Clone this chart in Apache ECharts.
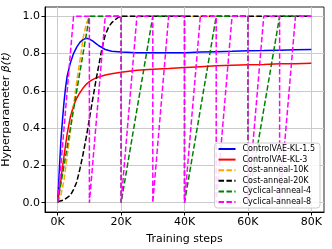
<!DOCTYPE html>
<html><head><meta charset="utf-8">
<script src="https://cdn.jsdelivr.net/npm/echarts@6/dist/echarts.min.js"></script>
<style>html,body{margin:0;padding:0;background:#fff}#c{width:332px;height:249px}</style>
</head><body><div id="c"></div>
<script>
// ---- data ----
var ctrlSteps = [0,500,1000,1500,2000,2500,3000,4000,5000,6000,7000,8000,9000,10000,11000,12000,13000,14000,15000,17000,20000,25000,30000,35000,40000,42000,45000,50000,55000,60000,65000,70000,75000,80000];
var kl15 = [0,0.17,0.33,0.44,0.54,0.62,0.68,0.75,0.80,0.835,0.86,0.875,0.882,0.878,0.868,0.855,0.842,0.832,0.822,0.813,0.808,0.805,0.804,0.804,0.804,0.806,0.808,0.81,0.812,0.815,0.816,0.818,0.82,0.822];
var kl3 = [0,0.06,0.12,0.19,0.25,0.31,0.37,0.46,0.52,0.56,0.59,0.615,0.635,0.65,0.66,0.668,0.675,0.68,0.685,0.692,0.70,0.71,0.716,0.72,0.725,0.727,0.73,0.735,0.738,0.74,0.742,0.745,0.746,0.748];
var cost10Steps = [0,1000,2000,3000,4000,5000,6000,7000,8000,9000,10000,80000];
var cost10Vals = [0,0.04,0.12,0.25,0.38,0.52,0.65,0.76,0.88,0.96,1.0,1.0];
var cost20Steps = [0,2000,4000,5000,6000,7000,8000,9000,10000,11000,12000,13000,14000,15000,16000,17000,18000,19000,20000,80000];
var cost20Vals = [0.005,0.015,0.04,0.07,0.11,0.18,0.26,0.35,0.45,0.55,0.65,0.74,0.83,0.9,0.94,0.965,0.98,0.993,1.0,1.0];
var cyc4Steps = [0,10000,20000,20000,30000,40000,40000,50000,60000,60000,70000,80000];
var cyc4Vals = [0,1,1,0,1,1,0,1,1,0,1,1];
var cyc8Steps = [0,5000,10000,10000,15000,20000,20000,25000,30000,30000,35000,40000,40000,45000,50000,50000,55000,60000,60000,65000,70000,70000,75000,80000];
var cyc8Vals = [0,1,1,0,1,1,0,1,1,0,1,1,0,1,1,0,1,1,0,1,1,0,1,1];
var xTickValues = [0,20000,40000,60000,80000];
var xTickLabels = ['0K','20K','40K','60K','80K'];
var yTickValues = [0,0.2,0.4,0.6,0.8,1.0];
var yTickLabels = ['0.0','0.2','0.4','0.6','0.8','1.0'];
var seriesNames = ['ControlVAE-KL-1.5','ControlVAE-KL-3','Cost-anneal-10K','Cost-anneal-20K','Cyclical-anneal-4','Cyclical-anneal-8'];

function pairs(xs, ys){ return xs.map(function(x,i){ return [x, ys[i]]; }); }
var FONT = 'DejaVu Sans';
var dash = [5.5, 2.4];
function mk(name, data, color, dashed){
  return {name:name, type:'line', data:data, symbol:'none', showSymbol:false, animation:false,
    lineStyle:{color:color, width:1.5, type: dashed ? dash : 'solid', cap:'butt'},
    itemStyle:{color:color}};
}
var chart = echarts.init(document.getElementById('c'), null, {renderer:'canvas'});
chart.setOption({
  animation:false,
  backgroundColor:'#fff',
  textStyle:{fontFamily:FONT},
  grid:{left:45, right:8, top:7, bottom:37, containLabel:false, outerBoundsMode:'none',
    show:true, borderColor:'#262626', borderWidth:1, backgroundColor:'transparent'},
  xAxis:{type:'value', min:-4000, max:84000, splitNumber:5,
    axisLine:{show:true, onZero:false, lineStyle:{color:'#000', width:1}},
    axisTick:{show:true, length:3.5, customValues:xTickValues, lineStyle:{color:'#000'}},
    axisLabel:{customValues:xTickValues, margin:5, fontSize:11, color:'#000', fontFamily:FONT,
      formatter:function(v){ var i = xTickValues.indexOf(v); return i>=0 ? xTickLabels[i] : ''; }},
    splitLine:{show:true, lineStyle:{color:'#cbcbcb', width:1}},
    name:'Training steps', nameLocation:'middle', nameGap:22,
    nameTextStyle:{fontSize:11, color:'#000', fontFamily:FONT}},
  yAxis:{type:'value', min:-0.05, max:1.05, splitNumber:5,
    axisLine:{show:true, onZero:false, lineStyle:{color:'#000', width:1}},
    axisTick:{show:true, length:3.5, customValues:yTickValues, lineStyle:{color:'#000'}},
    axisLabel:{customValues:yTickValues, margin:5, fontSize:11, color:'#000', fontFamily:FONT,
      formatter:function(v){ for(var i=0;i<yTickValues.length;i++){ if(Math.abs(yTickValues[i]-v)<1e-9) return yTickLabels[i]; } return ''; }},
    splitLine:{show:true, lineStyle:{color:'#cbcbcb', width:1}},
    name:'Hyperparameter {i|β(t)}', nameLocation:'middle', nameGap:32, nameRotate:90,
    nameTextStyle:{fontSize:11, color:'#000', fontFamily:FONT,
      rich:{i:{fontStyle:'italic', fontSize:11, color:'#000', fontFamily:FONT}}}},
  legend:{orient:'vertical', right:12, bottom:41, itemWidth:17, itemHeight:10, itemGap:2.6,
    padding:[2,5,2,3], backgroundColor:'rgba(255,255,255,0.85)', borderColor:'#cccccc', borderWidth:1, borderRadius:3,
    itemStyle:{opacity:0},
    textStyle:{fontSize:8, color:'#000', fontFamily:FONT, padding:[0,0,0,2]},
    data:seriesNames},
  series:[
    mk(seriesNames[0], pairs(ctrlSteps, kl15), '#0000ff', false),
    mk(seriesNames[1], pairs(ctrlSteps, kl3), '#ff0000', false),
    mk(seriesNames[2], pairs(cost10Steps, cost10Vals), '#ffa500', true),
    mk(seriesNames[3], pairs(cost20Steps, cost20Vals), '#000000', true),
    mk(seriesNames[4], pairs(cyc4Steps, cyc4Vals), '#008000', true),
    mk(seriesNames[5], pairs(cyc8Steps, cyc8Vals), '#ff00ff', true)
  ]
});
</script></body></html>
